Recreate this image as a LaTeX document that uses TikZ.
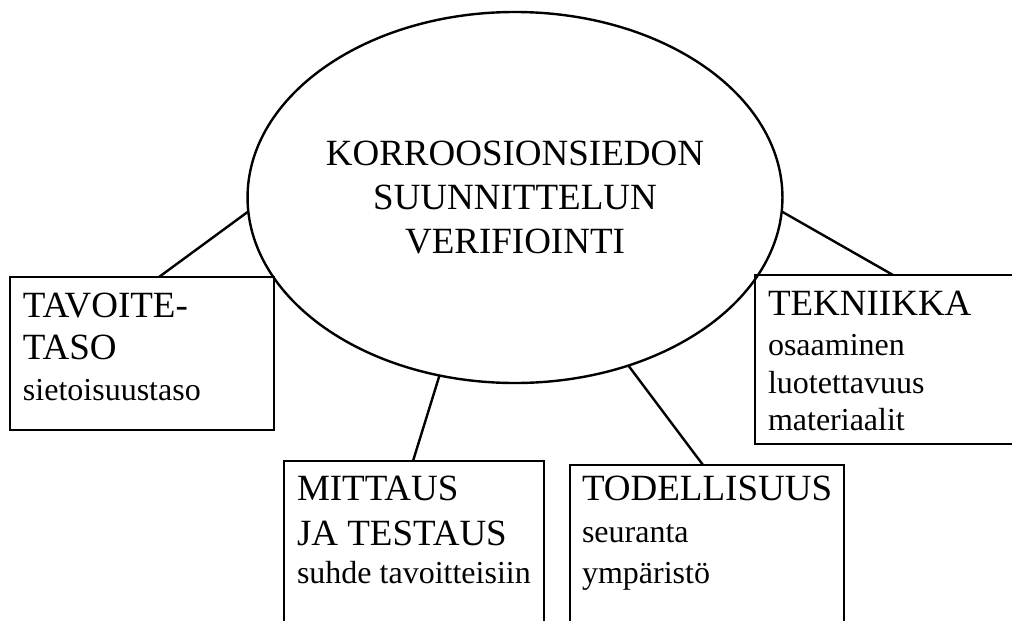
\documentclass[tikz,border=0pt]{standalone}
\usepackage{fontspec}
\setmainfont{Liberation Serif}
\usetikzlibrary{shapes.geometric,calc}
\tikzset{
  box/.style={draw,line width=2.4pt,rectangle,inner sep=0pt,outer sep=0pt,anchor=north west},
  conn/.style={line width=2.4pt},
  big/.style={font=\fontsize{37}{38}\selectfont},
  txt/.style={big,align=left,anchor=base west,inner sep=0pt,outer sep=0pt},
  ell/.style={ellipse,draw,line width=2.4pt,minimum width=506pt,minimum height=371pt,inner sep=0pt,outer sep=0pt,big,align=center}
}
\newcommand{\smtxt}{\fontsize{32}{38}\selectfont}
\begin{document}
\begin{tikzpicture}[x=1pt,y=-1pt]
\useasboundingbox (0,0) rectangle (1012,621);
\clip (0,0) rectangle (1012,621);
\node[ell] (ell) at (515,197.5) {KORROOSIONSIEDON\\[6.5pt]SUUNNITTELUN\\[6pt]VERIFIOINTI};
\node[box,minimum width=264pt,minimum height=153pt] (tav) at (10,277) {};
\node[box,minimum width=300pt,minimum height=169pt] (tek) at (755,275) {};
\node[box,minimum width=260pt,minimum height=200pt] (mit) at (284,461) {};
\node[box,minimum width=274pt,minimum height=200pt] (tod) at (570,465) {};
\node[txt] (tavt) at (23,400) {TAVOITE-\\[4pt]TASO\\[3pt]{\smtxt sietoisuustaso}};
\node[txt] (tekt) at (768,430) {TEKNIIKKA\\[2pt]{\smtxt osaaminen}\\{\smtxt luotettavuus}\\[-1pt]{\smtxt materiaalit}};
\node[txt] (mitt) at (297,583) {MITTAUS\\[7pt]JA TESTAUS\\{\smtxt suhde tavoitteisiin}};
\node[txt] (todt) at (582,583) {TODELLISUUS\\[4pt]{\smtxt seuranta}\\[3pt]{\smtxt ympäristö}};
\draw[conn] ($(tav.north west)+(149,0)$) -- (ell.183);
\draw[conn] ($(tek.north west)+(138,0)$) -- (ell.-3);
\draw[conn] ($(mit.north west)+(129,0)$) -- (ell.247.8);
\draw[conn] ($(tod.north west)+(133,0)$) -- (ell.304);
\end{tikzpicture}
\end{document}
